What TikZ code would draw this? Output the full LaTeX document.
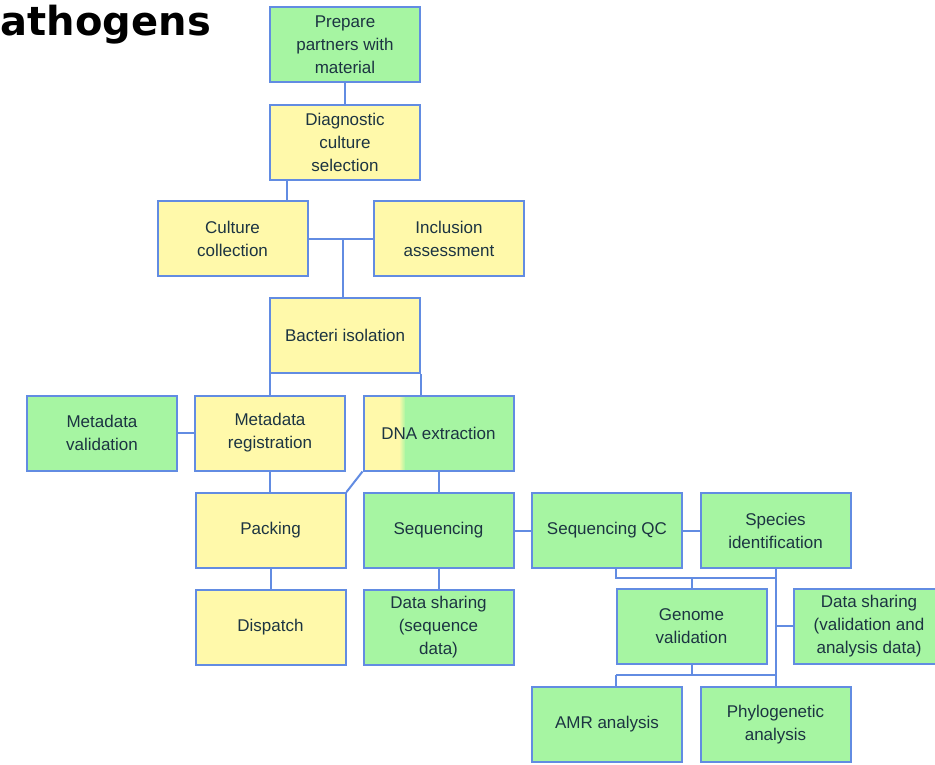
\documentclass[tikz,border=0pt]{standalone}
\usepackage{fontspec}
\setmainfont{Liberation Sans}
\newfontfamily\titlefont{DejaVu Sans}
\definecolor{grn}{RGB}{166,245,162}
\definecolor{yel}{RGB}{255,249,170}
\definecolor{edge}{RGB}{98,140,226}
\definecolor{ink}{RGB}{28,52,66}
\begin{document}
\begin{tikzpicture}[x=1pt,y=-1pt,
  box/.style={draw=edge,line width=2pt,minimum width=150pt,minimum height=75pt,
    inner sep=2pt,align=center,text=ink,font=\fontsize{17}{23}\selectfont},
  gbox/.style={box,fill=grn},
  ybox/.style={box,fill=yel},
  link/.style={draw=edge,line width=2pt}]
\useasboundingbox (0,0) rectangle (935,764);
\node[anchor=base east,font=\titlefont\bfseries\fontsize{40}{40}\selectfont,inner sep=0pt] (title) at (211,35) {athogens};

\node[gbox] (prep) at (345,44.5) {Prepare\\partners with\\material};
\node[ybox] (diag) at (345,142) {Diagnostic\\culture\\selection};
\node[ybox] (cult) at (232.5,238.5) {Culture\\collection};
\node[ybox] (incl) at (449,238.5) {Inclusion\\assessment};
\node[ybox] (bact) at (345,335.5) {Bacteri isolation};
\node[gbox] (mval) at (102,433) {Metadata\\validation};
\node[ybox] (mreg) at (270,433) {Metadata\\registration};
\node[box,path picture={
   \fill[yel] (path picture bounding box.south west) rectangle ([xshift=36pt]path picture bounding box.north west);
   \shade[left color=yel,right color=grn] ([xshift=35.5pt]path picture bounding box.south west) rectangle ([xshift=42pt]path picture bounding box.north west);
   \fill[grn] ([xshift=41.5pt]path picture bounding box.south west) rectangle (path picture bounding box.north east);}]
  (dna) at (438.5,433) {DNA extraction};
\node[ybox] (pack) at (270.5,530.5) {Packing};
\node[gbox] (seq) at (438.5,530.5) {Sequencing};
\node[ybox] (disp) at (270.5,627) {Dispatch};
\node[gbox] (dss) at (438.5,627) {Data sharing\\(sequence\\data)};
\node[gbox] (sqc) at (607,530.5) {Sequencing QC};
\node[gbox] (spec) at (775.5,530.5) {Species\\identification};
\node[gbox] (gen) at (691.5,626.5) {Genome\\validation};
\node[gbox] (dsv) at (869,626) {Data sharing\\(validation and\\analysis data)};
\node[gbox] (amr) at (607,724.5) {AMR analysis};
\node[gbox] (phy) at (775.5,724.5) {Phylogenetic\\analysis};

\coordinate (j1) at (343,239);
\coordinate (j2) at (616,578);
\coordinate (j3) at (775.5,578);
\coordinate (j4) at (775.5,626);
\coordinate (j5) at (616,675);
\coordinate (j6) at (775.5,675);

\path[link] (prep) -- (diag);
\path[link] (diag.south -| 287,0) -- (cult.north -| 287,0);
\path[link] (cult) -- (incl);
\path[link] (j1) -- (j1 |- bact.north);
\path[link] (bact.south -| 270,0) -- (mreg.north -| 270,0);
\path[link] (bact.south east) -- (bact.south east |- dna.north);
\path[link] (mval) -- (mreg);
\path[link] (mreg.south -| 270,0) -- (pack.north -| 270,0);
\path[link] (pack.north east) -- (dna.south west);
\path[link] (dna) -- (seq);
\path[link] (pack) -- (disp);
\path[link] (seq) -- (dss);
\path[link] (seq) -- (sqc);
\path[link] (sqc) -- (spec);
\path[link] (sqc.south -| j2) -- (j2) -- (j3);
\path[link] (spec) -- (phy);
\path[link] (gen) -- (gen.north |- j2);
\path[link] (j4) -- (dsv.west);
\path[link] (gen.south) -- (gen.south |- j5);
\path[link] (j5) -- (j6);
\path[link] (j5) -- (amr.north -| j5);
\end{tikzpicture}
\end{document}
